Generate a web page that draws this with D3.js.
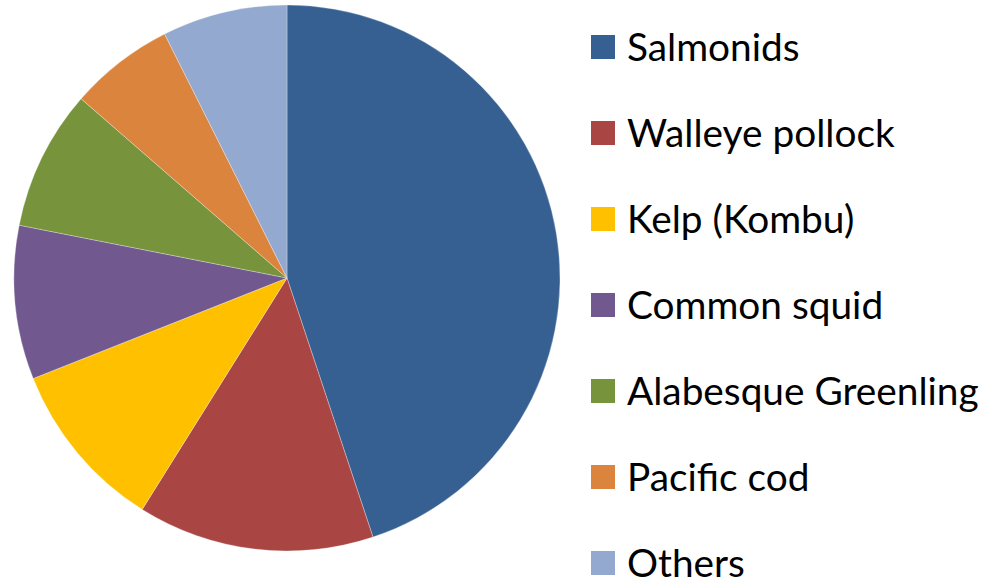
<!DOCTYPE html>
<html>
<head>
<meta charset="utf-8">
<script src="https://cdn.jsdelivr.net/npm/d3@7"></script>
<style>
  html, body { margin: 0; padding: 0; background: #fff; }
  svg { display: block; }
</style>
</head>
<body>
<div id="chart"></div>
<script>
// Catch composition (%)
const categories = ["Salmonids", "Walleye pollock", "Kelp (Kombu)", "Common squid",
  "Alabesque Greenling", "Pacific cod", "Others"];
const shares = [44.9, 14.0, 10.1, 9.1, 8.3, 6.2, 7.4];
const colors = ["#366092", "#A94644", "#FFC000", "#71588F", "#77933C", "#DB843D", "#93A9CF"];

const width = 1006, height = 581;
const cx = 287, cy = 278, radius = 273;

const svg = d3.select("#chart").append("svg")
  .attr("width", width)
  .attr("height", height);

const data = categories.map((name, i) => ({ name, value: shares[i], color: colors[i] }));

const pie = d3.pie()
  .value(d => d.value)
  .sort(null);

const arc = d3.arc()
  .innerRadius(0)
  .outerRadius(radius);

const g = svg.append("g").attr("transform", `translate(${cx},${cy})`);

g.selectAll("path")
  .data(pie(data))
  .enter()
  .append("path")
  .attr("d", arc)
  .attr("fill", d => d.data.color)
  .attr("stroke", "rgba(255,255,255,0.5)")
  .attr("stroke-width", 0.6);

// Legend
const legendY = d3.scalePoint()
  .domain(categories)
  .range([47, 563]);

const legend = svg.append("g").attr("class", "legend");

const items = legend.selectAll("g")
  .data(data)
  .enter()
  .append("g")
  .attr("transform", d => `translate(591,${legendY(d.name)})`);

items.append("rect")
  .attr("x", 0)
  .attr("y", -12)
  .attr("width", 24)
  .attr("height", 24)
  .attr("fill", d => d.color);

items.append("text")
  .attr("x", 36)
  .attr("y", 0)
  .attr("dy", "0.36em")
  .attr("font-family", "Lato, 'Open Sans', sans-serif")
  .attr("font-size", 38.8)
  .attr("fill", "#000")
  .text(d => d.name);
</script>
</body>
</html>
